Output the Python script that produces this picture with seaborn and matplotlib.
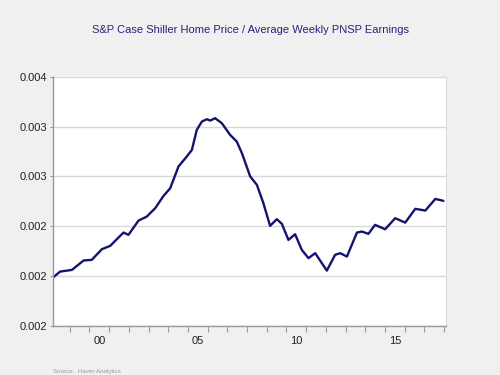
import numpy as np
import pandas as pd
import matplotlib.pyplot as plt
import seaborn as sns

# values (decimal year, ratio)
years = [1998.15, 1998.21, 1998.51, 1999.11, 1999.70, 2000.12, 2000.63, 2001.05, 2001.73,
         2001.98, 2002.49, 2002.91, 2003.34, 2003.76, 2004.10, 2004.52, 2004.94, 2005.20,
         2005.45, 2005.71, 2005.96, 2006.13, 2006.38, 2006.72, 2007.14, 2007.48, 2007.74,
         2008.16, 2008.50, 2008.83, 2009.17, 2009.51, 2009.77, 2010.10, 2010.44, 2010.78,
         2011.12, 2011.46, 2012.05, 2012.47, 2012.73, 2013.07, 2013.58, 2013.83, 2014.16,
         2014.50, 2015.01, 2015.52, 2016.03, 2016.54, 2017.05, 2017.56, 2017.97]
ratio = [0.001985, 0.001995, 0.002045, 0.002062, 0.002156, 0.002163, 0.002270, 0.002303, 0.002437,
         0.002414, 0.002557, 0.002597, 0.002682, 0.002805, 0.002882, 0.003100, 0.003200, 0.003267,
         0.003468, 0.003552, 0.003575, 0.003561, 0.003585, 0.003535, 0.003418, 0.003350, 0.003234,
         0.003000, 0.002916, 0.002732, 0.002504, 0.002571, 0.002524, 0.002363, 0.002420, 0.002263,
         0.002180, 0.002230, 0.002055, 0.002213, 0.002230, 0.002196, 0.002437, 0.002447, 0.002424,
         0.002514, 0.002470, 0.002581, 0.002537, 0.002675, 0.002658, 0.002775, 0.002755]

ytick_vals = [0.0015, 0.002, 0.0025, 0.003, 0.0035, 0.004]
ytick_labels = ["0.002", "0.002", "0.002", "0.003", "0.003", "0.004"]
xlabel_years = [2000, 2005, 2010, 2015]
xlabel_text = ["00", "05", "10", "15"]

title = "S&P Case Shiller Home Price / Average Weekly PNSP Earnings"
source = "Source:  Haver Analytics"

df = pd.DataFrame({"year": years, "ratio": ratio})

sns.set_style("white")
plt.rcParams['font.family'] = ['Liberation Sans', 'DejaVu Sans']

bg = "#f0f0f0"
navy = "#14146e"
fig = plt.figure(figsize=(5, 3.75), dpi=100, facecolor=bg)
ax = fig.add_axes([0.106, 0.131, 0.786, 0.664])
ax.set_facecolor("white")

sns.lineplot(data=df, x="year", y="ratio", ax=ax, color=navy, linewidth=1.7)

ax.set_xlim(1998.15, 2018.1)
ax.set_ylim(0.0015, 0.004)

# horizontal grid
ax.set_yticks(ytick_vals)
ax.set_yticklabels(ytick_labels)
ax.yaxis.grid(True, color="#d8d8d8", linewidth=1.0)
ax.xaxis.grid(False)

# year ticks at boundaries, labels at mid-year
ax.set_xticks(np.arange(1999, 2019))
ax.set_xticklabels([])
ax.set_xticks([y + 0.5 for y in xlabel_years], minor=True)
ax.set_xticklabels(xlabel_text, minor=True)
ax.tick_params(axis="x", which="major", length=4, color="#999999", width=0.8, direction="out", bottom=True)
ax.tick_params(axis="x", which="minor", length=0, pad=7, labelsize=8, labelcolor="#222222")
ax.tick_params(axis="y", length=2, color="#999999", width=0.8, labelsize=8, labelcolor="#222222", left=True, pad=2)

for side in ["left", "bottom"]:
    ax.spines[side].set_color("#999999")
    ax.spines[side].set_linewidth(1.0)
ax.spines["top"].set_visible(False)
ax.spines["right"].set_color("#dcdcdc")
ax.set_xlabel("")
ax.set_ylabel("")

fig.text(0.5, 0.92, title, ha="center", va="center", fontsize=8, color="#24247e")
fig.text(0.106, 0.003, source, ha="left", va="bottom", fontsize=4.5, color="#9a9a9a")

fig.savefig("out.png", dpi=100, facecolor=bg)
